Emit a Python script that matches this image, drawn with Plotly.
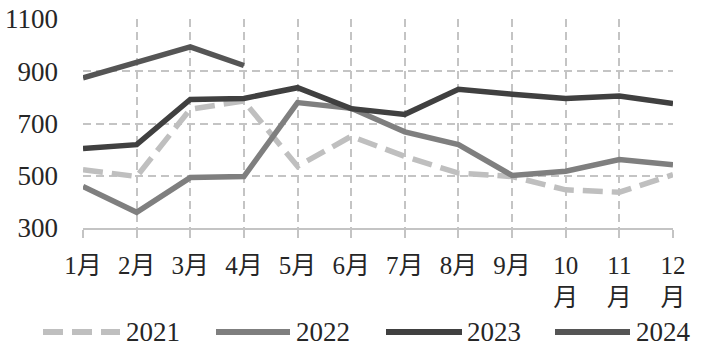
import plotly.graph_objects as go

months = ["1月", "2月", "3月", "4月", "5月", "6月", "7月", "8月", "9月", "10<br>月", "11<br>月", "12<br>月"]
s2021 = [523, 497, 755, 786, 536, 651, 574, 510, 497, 446, 437, 504]
s2022 = [459, 360, 493, 497, 780, 758, 668, 619, 501, 517, 562, 542]
s2023 = [604, 619, 792, 796, 837, 757, 735, 831, 812, 796, 805, 776]
s2024 = [875, 932, 993, 922]
years = ["2021", "2022", "2023", "2024"]

FONT = "Liberation Serif, Times New Roman, Noto Sans CJK SC, serif"
colors = ["#bfbfbf", "#7f7f7f", "#404040", "#555555"]
dashes = ["20px,9px", "solid", "solid", "solid"]
series = [s2021, s2022, s2023, s2024]

L, R, T, B = 83, 28, 19, 127
W, H = 701, 355
pw, ph = W - L - R, H - T - B

fig = go.Figure()
for name, vals, c, d in zip(years, series, colors, dashes):
    fig.add_trace(go.Scatter(
        x=list(range(len(vals))), y=vals, mode="lines", name=name,
        line=dict(color=c, width=5.5, dash=d), showlegend=False,
    ))

# manual legend
leg = [(43, 120, 124), (216, 290, 294), (386, 462, 465), (555, 630, 634)]
ly = 332
for (x0, x1, xt), name, c, d in zip(leg, years, colors, dashes):
    fig.add_shape(type="line", xref="paper", yref="paper",
                  x0=(x0 - L) / pw, x1=(x1 - L) / pw,
                  y0=(H - B - ly) / ph, y1=(H - B - ly) / ph,
                  line=dict(color=c, width=6, dash=d))
    fig.add_annotation(xref="paper", yref="paper", x=(xt - L) / pw, y=(H - B - ly) / ph,
                       text=name, showarrow=False, xanchor="left", yanchor="middle",
                       font=dict(family=FONT, size=27, color="#262626"))

fig.update_layout(
    width=W, height=H,
    margin=dict(l=L, r=R, t=T, b=B, autoexpand=False),
    paper_bgcolor="white", plot_bgcolor="white",
    font=dict(family=FONT, size=24, color="#262626"),
    showlegend=False,
)
fig.update_xaxes(
    range=[0, 11], tickmode="array", tickvals=list(range(12)), ticktext=months,
    showgrid=True, gridcolor="#c4c4c4", gridwidth=1.5, griddash="8px,5px",
    showline=True, linecolor="#c4c4c4", linewidth=1.5,
    ticks="outside", ticklen=8, tickcolor="#c4c4c4", tickwidth=1.5,
    zeroline=False, tickfont=dict(size=25), ticklabelstandoff=6, automargin=False,
)
fig.update_yaxes(
    range=[300, 1100], tickvals=[300, 500, 700, 900, 1100],
    showgrid=True, gridcolor="#c4c4c4", gridwidth=1.5, griddash="8px,5px",
    zeroline=False, showline=False, ticks="", tickfont=dict(size=27),
    ticklabelstandoff=24, automargin=False,
)
fig.write_html("out.html")
